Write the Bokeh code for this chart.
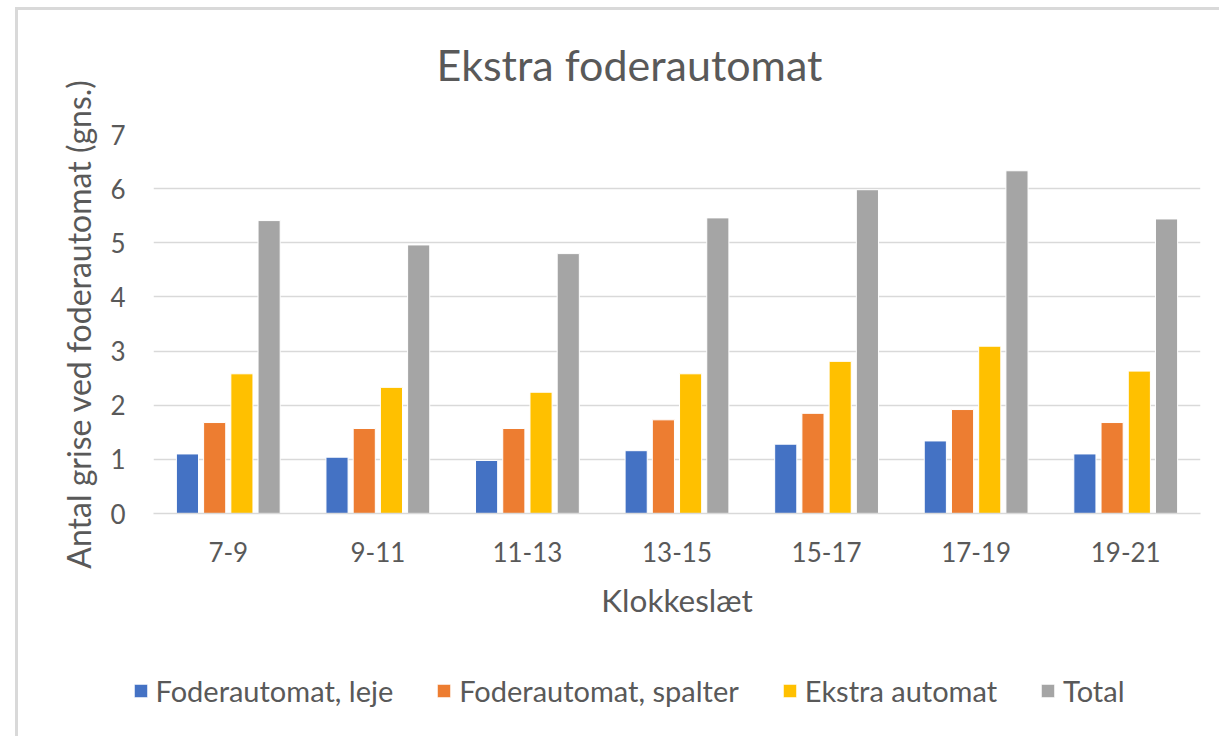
from bokeh.plotting import figure
from bokeh.layouts import column, row
from bokeh.models import (FactorRange, Range1d, Legend, LegendItem, Div, Spacer, Title,
                          SingleIntervalTicker, ColumnDataSource)
from bokeh.transform import dodge
from bokeh.embed import file_html
from bokeh.resources import INLINE

categories = ["7-9", "9-11", "11-13", "13-15", "15-17", "17-19", "19-21"]
leje = [1.10, 1.04, 0.98, 1.16, 1.28, 1.34, 1.10]
spalter = [1.68, 1.57, 1.57, 1.73, 1.85, 1.92, 1.68]
ekstra = [2.58, 2.33, 2.24, 2.58, 2.81, 3.09, 2.63]
total = [5.41, 4.96, 4.80, 5.46, 5.98, 6.33, 5.44]
series_names = ["Foderautomat, leje", "Foderautomat, spalter", "Ekstra automat", "Total"]
colors = ["#4472C4", "#ED7D31", "#FFC000", "#A5A5A5"]

FONT = "Lato"
TXT = "#595959"
BORDER = "#D9D9D9"

src = ColumnDataSource(dict(cat=categories, leje=leje, spalter=spalter, ekstra=ekstra, total=total))
cols = ["leje", "spalter", "ekstra", "total"]
offsets = [-0.273, -0.091, 0.091, 0.273]

W, H, LH = 1195, 640, 86
p = figure(x_range=FactorRange(*categories), y_range=Range1d(0, 7),
           width=W, height=H, output_backend="svg", toolbar_location=None,
           min_border_left=135, min_border_right=13, min_border_top=124, min_border_bottom=137)

p.title.text = "Ekstra foderautomat"
p.title.text_font = FONT
p.title.text_font_size = "43px"
p.title.text_font_style = "normal"
p.title.text_color = TXT
p.title.align = "left"
p.title.offset = 283
p.title.standoff = 10

# invisible gap between the title and the plot area
gap = Title(text=" ", text_font_size="10px", standoff=27)
p.add_layout(gap, "above")

for c, off, col in zip(cols, offsets, colors):
    p.vbar(x=dodge("cat", off, range=p.x_range), top=c, width=0.148, source=src,
           fill_color=col, line_color="white", line_width=1)

p.outline_line_color = None
p.xgrid.grid_line_color = None
p.ygrid.grid_line_color = BORDER
p.ygrid.grid_line_width = 1.5

p.yaxis.ticker = SingleIntervalTicker(interval=1)
p.yaxis.axis_line_color = None
p.yaxis.major_tick_line_color = None
p.yaxis.minor_tick_line_color = None
p.yaxis.major_tick_out = 0
p.yaxis.major_label_standoff = 24
p.yaxis.major_label_text_font = FONT
p.yaxis.major_label_text_font_size = "26px"
p.yaxis.major_label_text_color = TXT
p.yaxis.axis_label = "Antal grise ved foderautomat (gns.)"
p.yaxis.axis_label_text_font = FONT
p.yaxis.axis_label_text_font_size = "32px"
p.yaxis.axis_label_text_font_style = "normal"
p.yaxis.axis_label_text_color = TXT
p.yaxis.axis_label_standoff = 9

p.xaxis.axis_line_color = BORDER
p.xaxis.axis_line_width = 1.5
p.xaxis.major_tick_line_color = None
p.xaxis.minor_tick_line_color = None
p.xaxis.major_tick_out = 0
p.xaxis.major_label_standoff = 28
p.xaxis.major_label_text_font = FONT
p.xaxis.major_label_text_font_size = "26px"
p.xaxis.major_label_text_color = TXT
p.xaxis.axis_label = "Klokkeslæt"
p.xaxis.axis_label_text_font = FONT
p.xaxis.axis_label_text_font_size = "31.5px"
p.xaxis.axis_label_text_font_style = "normal"
p.xaxis.axis_label_text_color = TXT
p.xaxis.axis_label_standoff = 16

# legend strip: a plain figure holding only the legend (its glyph renderers are hidden)
p2 = figure(width=W, height=LH, x_range=FactorRange(*categories), y_range=Range1d(0, 7),
            output_backend="svg", toolbar_location=None,
            x_axis_location=None, y_axis_location=None,
            min_border_left=0, min_border_right=0, min_border_top=0, min_border_bottom=0)
p2.grid.visible = False
p2.outline_line_color = None
leg_renderers = []
for c, off, col in zip(cols, offsets, colors):
    r = p2.vbar(x=dodge("cat", off, range=p2.x_range), top=c, width=0.148, source=src,
                fill_color=col, line_color="white", line_width=1, visible=False)
    leg_renderers.append(r)

legend = Legend(items=[LegendItem(label=n, renderers=[r]) for n, r in zip(series_names, leg_renderers)],
                location=(113.5, 28), orientation="horizontal", padding=0, margin=0,
                spacing=42, border_line_color=None, background_fill_alpha=0,
                inactive_fill_alpha=0,
                glyph_width=17, glyph_height=17, label_standoff=7,
                label_text_font=FONT, label_text_font_size="29px", label_text_color=TXT,
                label_height=17)
p2.add_layout(legend, "center")

top_line = Div(width=1204, height=3, margin=0, styles={"background-color": BORDER})
left_line1 = Div(width=3, height=H, margin=0, styles={"background-color": BORDER})
left_line2 = Div(width=3, height=LH, margin=0, styles={"background-color": BORDER})

layout = column(
    Spacer(height=7),
    row(Spacer(width=15), top_line),
    row(Spacer(width=15), left_line1, p),
    row(Spacer(width=15), left_line2, p2),
)

open("out.html", "w").write(file_html(layout, INLINE))
